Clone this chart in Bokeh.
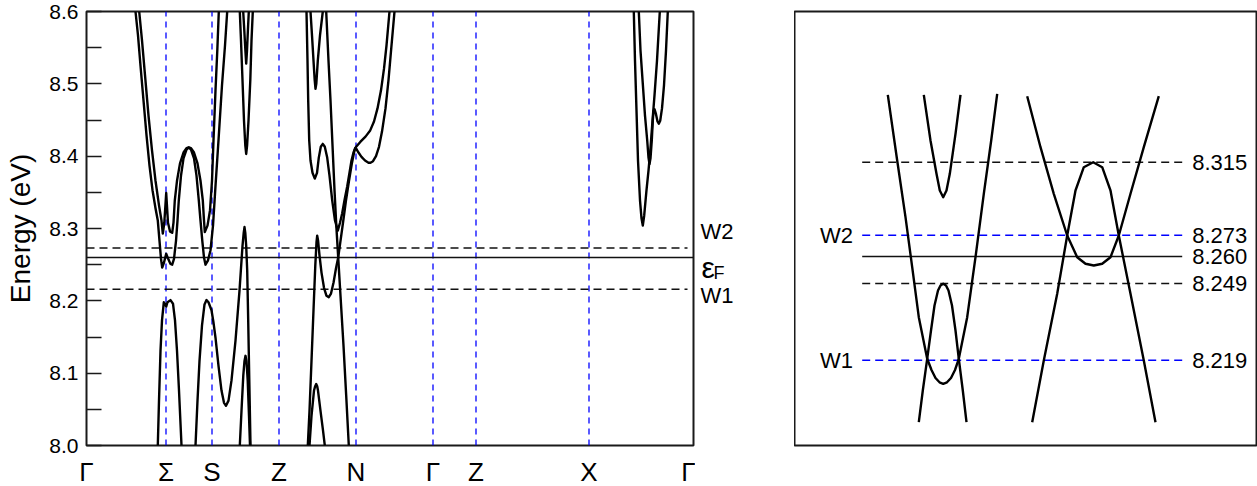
from bokeh.plotting import figure
from bokeh.models import Range1d, Label, FixedTicker
from bokeh.layouts import row
from bokeh.embed import file_html
from bokeh.resources import INLINE

FONT = "Liberation Sans"

# ---------------- left panel data: band structure ----------------
kpath_pos = [0.0, 0.795, 1.255, 1.925, 2.695, 3.465, 3.895, 5.025, 6.07]
kpath_lbl = ["Γ", "Σ", "S", "Z", "N", "Γ", "Z", "X", "Γ"]

y_ticks = [8.0, 8.1, 8.2, 8.3, 8.4, 8.5, 8.6]
y_tick_labels = ["8.0", "8.1", "8.2", "8.3", "8.4", "8.5", "8.6"]
y_minor = [8.05, 8.15, 8.25, 8.35, 8.45, 8.55]

E_W2 = 8.273
E_F = 8.260
E_W1 = 8.216

bandA_out_k = [0.49, 0.515, 0.54, 0.57, 0.60, 0.63, 0.66, 0.69, 0.713, 0.73, 0.745, 0.757, 0.775, 0.797,
               0.82, 0.84, 0.857, 0.875, 0.895, 0.91, 0.923, 0.945, 0.97, 1.00, 1.023, 1.045, 1.075, 1.10,
               1.123, 1.14, 1.158, 1.175, 1.19, 1.215, 1.24, 1.265, 1.29, 1.32, 1.355, 1.385, 1.407]
bandA_out_E = [8.600, 8.567, 8.525, 8.477, 8.429, 8.387, 8.353, 8.328, 8.311, 8.283, 8.258, 8.246, 8.253, 8.265,
               8.257, 8.251, 8.250, 8.258, 8.283, 8.311, 8.339, 8.373, 8.397, 8.409, 8.412, 8.409, 8.397, 8.373,
               8.339, 8.311, 8.283, 8.260, 8.250, 8.256, 8.270, 8.304, 8.359, 8.422, 8.498, 8.553, 8.600]

bandA_in_k = [0.527, 0.555, 0.585, 0.62, 0.655, 0.69, 0.725, 0.75, 0.763, 0.778, 0.797, 0.815, 0.835, 0.857,
              0.87, 0.883, 0.905, 0.935, 0.97, 1.00, 1.023, 1.045, 1.075, 1.11, 1.14, 1.163, 1.175, 1.183,
              1.21, 1.235, 1.255, 1.27, 1.29, 1.308, 1.323]
bandA_in_E = [8.600, 8.560, 8.512, 8.456, 8.408, 8.366, 8.332, 8.311, 8.293, 8.308, 8.349, 8.308, 8.296, 8.294,
              8.308, 8.339, 8.366, 8.390, 8.405, 8.411, 8.412, 8.411, 8.405, 8.390, 8.366, 8.339, 8.311, 8.295,
              8.304, 8.325, 8.366, 8.422, 8.491, 8.546, 8.600]

bandB1_k = [0.713, 0.725, 0.74, 0.755, 0.773, 0.785, 0.797, 0.81, 0.84, 0.865, 0.885, 0.905, 0.925, 0.95]
bandB1_E = [8.000, 8.062, 8.131, 8.173, 8.198, 8.196, 8.192, 8.198, 8.201, 8.196, 8.173, 8.131, 8.076, 8.000]

bandB2_k = [1.09, 1.11, 1.13, 1.155, 1.18, 1.20, 1.22, 1.25, 1.27, 1.29, 1.32, 1.35, 1.375, 1.395, 1.42,
            1.45, 1.49, 1.53, 1.56, 1.572, 1.58, 1.588, 1.597, 1.607, 1.617, 1.628, 1.64]
bandB2_E = [8.000, 8.062, 8.117, 8.166, 8.195, 8.201, 8.198, 8.187, 8.170, 8.149, 8.110, 8.076, 8.059, 8.055, 8.062,
            8.090, 8.145, 8.214, 8.276, 8.294, 8.302, 8.294, 8.276, 8.242, 8.173, 8.090, 8.000]

bandB3_k = [1.533, 1.55, 1.568, 1.58, 1.59, 1.60, 1.612, 1.625, 1.635]
bandB3_E = [8.000, 8.048, 8.097, 8.117, 8.124, 8.117, 8.090, 8.041, 8.000]

bandC_out_k = [1.533, 1.545, 1.56, 1.575, 1.588, 1.597, 1.606, 1.62, 1.638, 1.65, 1.663]
bandC_out_E = [8.600, 8.560, 8.505, 8.449, 8.415, 8.403, 8.415, 8.449, 8.505, 8.560, 8.600]

bandC_in_k = [1.567, 1.578, 1.589, 1.597, 1.605, 1.614, 1.623]
bandC_in_E = [8.600, 8.574, 8.546, 8.528, 8.546, 8.574, 8.600]

bandD1_k = [2.24, 2.255, 2.27, 2.282, 2.29, 2.298, 2.313, 2.335, 2.363]
bandD1_E = [8.600, 8.567, 8.532, 8.505, 8.493, 8.500, 8.532, 8.567, 8.600]

bandD2_k = [2.20, 2.21, 2.217, 2.227, 2.24, 2.26, 2.283, 2.305, 2.323, 2.343, 2.363, 2.383, 2.407, 2.43,
            2.457, 2.485, 2.513, 2.535, 2.557, 2.58, 2.607, 2.63, 2.65, 2.67, 2.69]
bandD2_E = [8.600, 8.532, 8.477, 8.422, 8.394, 8.377, 8.369, 8.377, 8.398, 8.413, 8.417, 8.413, 8.398, 8.373,
            8.339, 8.311, 8.297, 8.308, 8.321, 8.339, 8.358, 8.377, 8.394, 8.405, 8.412]

bandD3_k = [2.397, 2.42, 2.44, 2.46, 2.48, 2.498, 2.517, 2.54, 2.57, 2.597, 2.623]
bandD3_E = [8.600, 8.532, 8.477, 8.415, 8.353, 8.304, 8.260, 8.207, 8.138, 8.069, 8.000]

bandD5_k = [2.213, 2.23, 2.25, 2.27, 2.288, 2.30, 2.307, 2.316, 2.33, 2.35, 2.375, 2.40, 2.423, 2.445, 2.47,
            2.495, 2.517, 2.54, 2.565, 2.595, 2.625, 2.655, 2.68, 2.69]
bandD5_E = [8.000, 8.048, 8.117, 8.187, 8.249, 8.281, 8.290, 8.283, 8.263, 8.239, 8.218, 8.207, 8.205, 8.210, 8.225,
            8.245, 8.260, 8.283, 8.308, 8.339, 8.366, 8.391, 8.408, 8.412]

bandD6_k = [2.23, 2.25, 2.275, 2.287, 2.297, 2.307, 2.315, 2.34, 2.365, 2.383]
bandD6_E = [8.000, 8.041, 8.076, 8.082, 8.085, 8.082, 8.076, 8.048, 8.021, 8.000]

bandDu_k = [2.69, 2.74, 2.79, 2.835, 2.875, 2.91, 2.945, 2.975, 3.00, 3.03]
bandDu_E = [8.412, 8.420, 8.427, 8.435, 8.448, 8.466, 8.491, 8.521, 8.553, 8.600]

bandDl_k = [2.69, 2.72, 2.75, 2.785, 2.82, 2.84, 2.865, 2.895, 2.925, 2.955, 2.99, 3.02, 3.05, 3.08]
bandDl_E = [8.412, 8.405, 8.399, 8.394, 8.391, 8.391, 8.393, 8.400, 8.413, 8.434, 8.466, 8.505, 8.553, 8.600]

bandE1_k = [5.473, 5.485, 5.50, 5.515, 5.535, 5.55, 5.563, 5.577, 5.60, 5.62, 5.64, 5.66, 5.68, 5.705, 5.733]
bandE1_E = [8.600, 8.532, 8.463, 8.394, 8.339, 8.314, 8.304, 8.318, 8.353, 8.380, 8.411, 8.449, 8.484, 8.532, 8.600]

bandE2_k = [5.523, 5.54, 5.563, 5.585, 5.607, 5.62, 5.63, 5.64, 5.653, 5.663, 5.67, 5.68, 5.695, 5.71, 5.723,
            5.737, 5.755, 5.775, 5.795, 5.813]
bandE2_E = [8.600, 8.546, 8.500, 8.456, 8.422, 8.398, 8.389, 8.397, 8.422, 8.449, 8.463, 8.465, 8.458, 8.448, 8.445,
            8.449, 8.466, 8.498, 8.546, 8.600]

bands = [(bandA_out_k, bandA_out_E), (bandA_in_k, bandA_in_E), (bandB1_k, bandB1_E), (bandB2_k, bandB2_E),
         (bandB3_k, bandB3_E), (bandC_out_k, bandC_out_E), (bandC_in_k, bandC_in_E), (bandD1_k, bandD1_E),
         (bandD2_k, bandD2_E), (bandD3_k, bandD3_E), (bandD5_k, bandD5_E), (bandD6_k, bandD6_E),
         (bandDu_k, bandDu_E), (bandDl_k, bandDl_E), (bandE1_k, bandE1_E), (bandE2_k, bandE2_E)]

# labels beside the left panel (energy level names)
side_lbl = ["W2", "ε", "F", "W1"]
side_E = [8.296, 8.246, 8.238, 8.208]

# ---------------- right panel data: schematic (arbitrary units) ----------------
sch_levels_v = [2.833, 2.103, 1.89, 1.62, 0.853]
sch_levels_lbl = ["8.315", "8.273", "8.260", "8.249", "8.219"]
sch_levels_color = ["#111111", "#0000ff", "#111111", "#111111", "#0000ff"]
sch_levels_dash = ["8 5", "8 5", "solid", "8 5", "8 5"]
sch_line_u = [0.677, 3.877]
sch_W_lbl = ["W2", "W1"]
sch_W_v = [2.103, 0.853]

schU1_u = [0.933, 1.027, 1.11, 1.177, 1.243, 1.327, 1.37, 1.41, 1.45, 1.487, 1.525, 1.565, 1.605, 1.643,
           1.727, 1.81, 1.893, 1.967, 2.027]
schU1_v = [3.507, 2.85, 2.283, 1.783, 1.283, 0.867, 0.755, 0.675, 0.632, 0.617, 0.632, 0.675, 0.755, 0.867,
           1.283, 1.883, 2.517, 3.05, 3.517]

schN1_u = [1.243, 1.283, 1.327, 1.365, 1.40, 1.435, 1.46, 1.487, 1.515, 1.54, 1.575, 1.61, 1.643, 1.683, 1.72]
schN1_v = [0.233, 0.55, 0.867, 1.15, 1.40, 1.55, 1.60, 1.617, 1.60, 1.55, 1.40, 1.15, 0.867, 0.55, 0.233]

schS1_u = [1.293, 1.36, 1.42, 1.453, 1.487, 1.52, 1.553, 1.61, 1.66]
schS1_v = [3.507, 3.05, 2.717, 2.55, 2.483, 2.55, 2.717, 3.117, 3.507]

schU2_u = [2.327, 2.46, 2.593, 2.727, 2.827, 2.91, 2.993, 3.077, 3.16, 3.243, 3.36, 3.493, 3.643]
schU2_v = [3.493, 2.983, 2.517, 2.10, 1.883, 1.817, 1.80, 1.817, 1.883, 2.10, 2.517, 2.983, 3.493]

schN2_u = [2.377, 2.493, 2.627, 2.727, 2.81, 2.893, 2.987, 3.077, 3.16, 3.243, 3.36, 3.493, 3.61]
schN2_v = [0.233, 0.85, 1.517, 2.10, 2.55, 2.783, 2.833, 2.783, 2.55, 2.10, 1.517, 0.85, 0.233]

sch_curves = [(schU1_u, schU1_v), (schN1_u, schN1_v), (schS1_u, schS1_v), (schU2_u, schU2_v), (schN2_u, schN2_v)]

BLUE = "#0000ff"

# ---------------- left figure ----------------
yr = Range1d(8.0, 8.6)
p1 = figure(frame_width=607, frame_height=434, x_range=Range1d(0, 6.07), y_range=yr,
            toolbar_location=None, output_backend="svg",
            min_border_left=86, min_border_right=2, min_border_top=11, min_border_bottom=41,
            background_fill_color="white", border_fill_color="white",
            outline_line_color="#1a1a1a", outline_line_width=2)
p1.grid.visible = False
ax = p1.yaxis[0]
ax.ticker = FixedTicker(ticks=y_ticks, minor_ticks=y_minor)
ax.major_label_overrides = {t: l for t, l in zip(y_ticks, y_tick_labels)}
ax.axis_line_color = None
ax.major_tick_in = 15
ax.major_tick_out = 0
ax.minor_tick_in = 15
ax.minor_tick_out = 0
ax.major_tick_line_color = "#1a1a1a"
ax.minor_tick_line_color = "#1a1a1a"
ax.major_tick_line_width = 1.5
ax.minor_tick_line_width = 1.5
ax.major_label_text_font = FONT
ax.major_label_text_font_size = "21px"
ax.major_label_text_color = "black"
ax.major_label_standoff = 8
ax.axis_label = "Energy (eV)"
ax.axis_label_text_font = FONT
ax.axis_label_text_font_size = "28px"
ax.axis_label_text_font_style = "normal"
ax.axis_label_text_color = "black"
ax.axis_label_standoff = 10

xax = p1.xaxis[0]
xax.ticker = FixedTicker(ticks=kpath_pos)
xax.major_label_overrides = {t: l for t, l in zip(kpath_pos, kpath_lbl)}
xax.axis_line_color = None
xax.major_tick_line_color = None
xax.minor_tick_line_color = None
xax.major_tick_in = 0
xax.major_tick_out = 0
xax.minor_tick_in = 0
xax.minor_tick_out = 0
xax.major_label_standoff = 11
xax.major_label_text_font = FONT
xax.major_label_text_font_size = "26px"
xax.major_label_text_color = "black"

inner_k = kpath_pos[1:-1]
p1.segment(x0=inner_k, x1=inner_k, y0=[8.0] * len(inner_k), y1=[8.6] * len(inner_k),
           line_color=BLUE, line_dash="6 5", line_width=1.3)
p1.segment(x0=[0.0, 0.0], x1=[6.01, 6.01], y0=[E_W2, E_W1], y1=[E_W2, E_W1],
           line_color="#111111", line_dash="8 5", line_width=1.4)
p1.line([0.0, 6.07], [E_F, E_F], line_color="#111111", line_width=1.6)

for kk, ee in bands:
    p1.line(kk, ee, line_color="black", line_width=2.4, line_join="round")

# ---------------- label strip between panels ----------------
strip = figure(frame_width=99, frame_height=434, x_range=Range1d(0, 0.99), y_range=yr,
               x_axis_location=None, y_axis_location=None, toolbar_location=None, output_backend="svg",
               min_border_left=0, min_border_right=0, min_border_top=11, min_border_bottom=41,
               background_fill_color="white", border_fill_color="white", outline_line_color=None)
strip.grid.visible = False
strip.add_layout(Label(x=0.05, y=side_E[0], text=side_lbl[0], text_align="left", text_baseline="middle",
                       text_font=FONT, text_font_size="22px", text_color="black"))
strip.add_layout(Label(x=0.06, y=side_E[1], text=side_lbl[1], text_align="left", text_baseline="alphabetic",
                       text_font=FONT, text_font_size="30px", text_color="black"))
strip.add_layout(Label(x=0.18, y=side_E[2], text=side_lbl[2], text_align="left", text_baseline="alphabetic",
                       text_font=FONT, text_font_size="18px", text_color="black"))
strip.add_layout(Label(x=0.05, y=side_E[3], text=side_lbl[3], text_align="left", text_baseline="middle",
                       text_font=FONT, text_font_size="22px", text_color="black"))

# ---------------- right figure ----------------
p2 = figure(frame_width=462, frame_height=434, x_range=Range1d(0, 4.62), y_range=Range1d(0, 4.34),
            x_axis_location=None, y_axis_location=None, toolbar_location=None, output_backend="svg",
            min_border_left=0, min_border_right=1, min_border_top=11, min_border_bottom=41,
            background_fill_color="white", border_fill_color="white",
            outline_line_color="#1a1a1a", outline_line_width=2)
p2.grid.visible = False

for v, c, d, lbl in zip(sch_levels_v, sch_levels_color, sch_levels_dash, sch_levels_lbl):
    p2.line(sch_line_u, [v, v], line_color=c, line_dash=d, line_width=1.6)
    p2.add_layout(Label(x=3.977, y=v, text=lbl, text_align="left", text_baseline="middle",
                        text_font=FONT, text_font_size="22px", text_color="black"))

for v, lbl in zip(sch_W_v, sch_W_lbl):
    p2.add_layout(Label(x=0.585, y=v, text=lbl, text_align="right", text_baseline="middle",
                        text_font=FONT, text_font_size="22px", text_color="black"))

for uu, vv in sch_curves:
    p2.line(uu, vv, line_color="black", line_width=2.4, line_join="round")

layout = row(p1, strip, p2)
open("out.html", "w").write(file_html(layout, INLINE))
